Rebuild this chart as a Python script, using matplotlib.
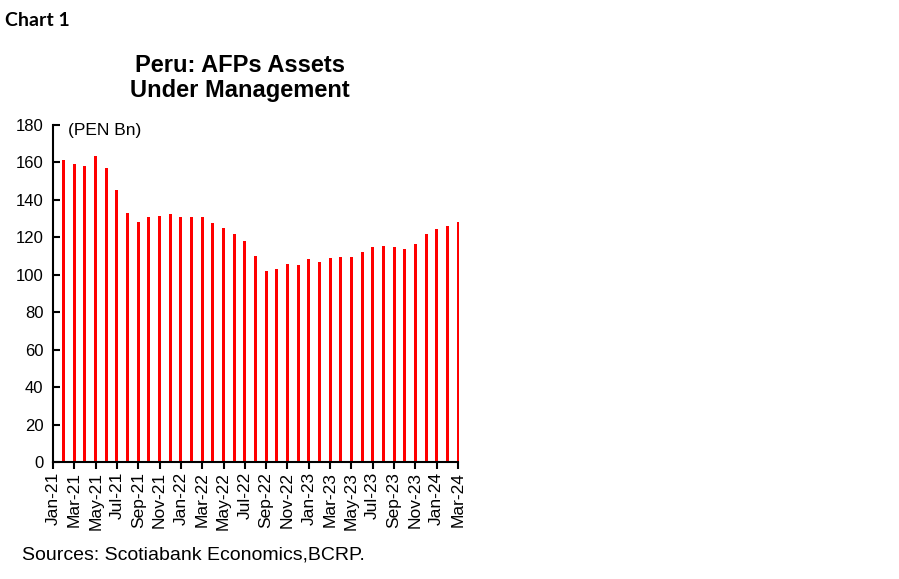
import numpy as np
import matplotlib
matplotlib.use('Agg')
import matplotlib.pyplot as plt

# Peru AFP assets under management, PEN bn, monthly Jan-21 .. Mar-24
months = ['Jan-21', 'Feb-21', 'Mar-21', 'Apr-21', 'May-21', 'Jun-21', 'Jul-21', 'Aug-21',
          'Sep-21', 'Oct-21', 'Nov-21', 'Dec-21', 'Jan-22', 'Feb-22', 'Mar-22', 'Apr-22',
          'May-22', 'Jun-22', 'Jul-22', 'Aug-22', 'Sep-22', 'Oct-22', 'Nov-22', 'Dec-22',
          'Jan-23', 'Feb-23', 'Mar-23', 'Apr-23', 'May-23', 'Jun-23', 'Jul-23', 'Aug-23',
          'Sep-23', 'Oct-23', 'Nov-23', 'Dec-23', 'Jan-24', 'Feb-24', 'Mar-24']
assets = [162.5, 161.3, 159.0, 158.3, 163.4, 157.0, 145.1, 133.1, 128.0, 130.6, 131.5, 132.2,
          131.0, 131.0, 131.0, 127.8, 124.8, 121.9, 118.3, 110.0, 102.1, 103.2, 105.5, 105.0,
          108.2, 106.8, 108.7, 109.3, 109.3, 111.9, 114.6, 115.3, 114.8, 113.9, 116.5, 121.9,
          124.2, 126.2, 128.0]
tick_labels = months[::2]
y_ticks = [0, 20, 40, 60, 80, 100, 120, 140, 160, 180]

plt.rcParams['font.family'] = ['Liberation Sans', 'DejaVu Sans']

fig = plt.figure(figsize=(8.99, 5.79), dpi=100)
ax = fig.add_axes([53/899, 1-462/579, (458-53)/899, (462-125)/579])

x = np.arange(len(assets))
bars = ax.bar(x, assets, width=0.28, color='#ff0000', zorder=1)
for b in bars:
    b.set_clip_on(False)

ax.set_xlim(0, len(assets)-1)
ax.set_ylim(0, 180)
ax.set_yticks(y_ticks)
ax.set_xticks(x[::2])
ax.set_xticklabels(tick_labels, rotation=90, fontsize=12.5)
ax.tick_params(axis='y', direction='in', length=5, width=1.5, labelsize=12, pad=7)
ax.tick_params(axis='x', direction='out', length=5, width=1.5, pad=2)

for s in ['top', 'right']:
    ax.spines[s].set_visible(False)
for s in ['left', 'bottom']:
    ax.spines[s].set_linewidth(1.5)
    ax.spines[s].set_zorder(3)

fig.text(5/899, 1-20/579, 'Chart 1', fontsize=14, fontweight='bold',
         family=['Lato', 'DejaVu Sans'], ha='left', va='center')
fig.text(240/899, 1-78/579, 'Peru: AFPs Assets\nUnder Management', fontsize=17,
         fontweight='bold', ha='center', va='center', linespacing=1.15)
fig.text(68/899, 1-130/579, '(PEN Bn)', fontsize=12.5, ha='left', va='center')
fig.text(22/899, 1-555/579, 'Sources: Scotiabank Economics,BCRP.', fontsize=14,
         ha='left', va='center')

fig.savefig('out.png', dpi=100)
